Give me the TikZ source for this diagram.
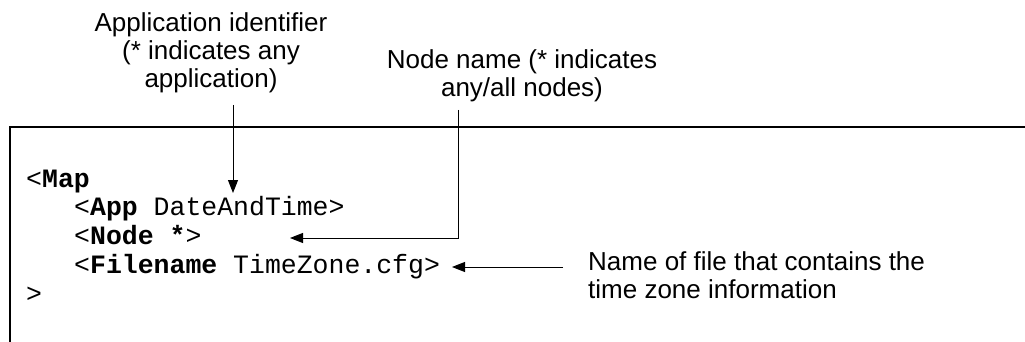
\documentclass[tikz,border=0pt]{standalone}
\usepackage{fontspec}
\setmainfont{Liberation Sans}
\setmonofont{Liberation Mono}
\usetikzlibrary{arrows.meta}
\tikzset{
  note/.style={inner sep=0pt, font=\fontsize{26}{28}\selectfont},
  code/.style={inner sep=0pt, anchor=base west, font=\ttfamily\fontsize{26.5}{29}\selectfont},
  pointer/.style={line width=1pt, -{Triangle[length=13pt,width=10pt]}},
  frame/.style={line width=1.3pt}
}
\begin{document}
\begin{tikzpicture}[x=1pt,y=-1pt]
  \useasboundingbox (0,0) rectangle (1025,342);
  % open frame around the configuration snippet
  \draw[frame] (10,342) -- (10,127) -- (1025,127);

  % configuration lines
  \node[code] (map)  at (26,187) {<\textbf{Map}};
  \node[code] (app)  at (74,215) {<\textbf{App} DateAndTime>};
  \node[code] (nd)   at (74,244) {<\textbf{Node *}>};
  \node[code] (file) at (74,273) {<\textbf{Filename} TimeZone.cfg>};
  \node[code] (close) at (26,302) {>};

  % callouts (anchored at the baseline of their last line)
  \node[note, anchor=base, align=center] (applbl) at (211,88)
    {Application identifier\\(* indicates any\\application)};
  \node[note, anchor=base, align=center] (nodelbl) at (522,97)
    {Node name (* indicates\\any/all nodes)};
  \node[note, anchor=base west, align=left] (filelbl) at (588,298)
    {Name of file that contains the\\time zone information};

  % connector end points
  \coordinate (a1) at (233,105);
  \coordinate (a2) at (233,193);
  \coordinate (b1) at (458,110);
  \coordinate (b2) at (290,238);
  \coordinate (c1) at (563,267);
  \coordinate (c2) at (452,267);

  \draw[pointer] (a1) -- (a2);
  \draw[pointer] (b1) |- (b2);
  \draw[pointer] (c1) -- (c2);
\end{tikzpicture}
\end{document}
